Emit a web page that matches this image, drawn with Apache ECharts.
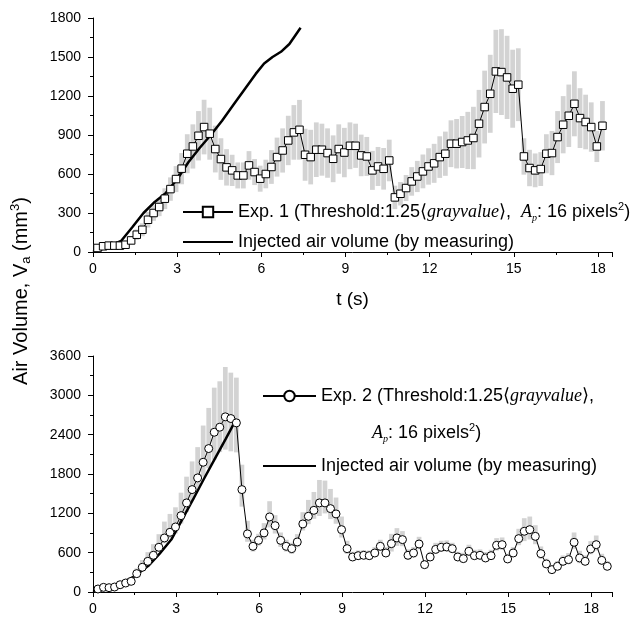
<!DOCTYPE html>
<html>
<head>
<meta charset="utf-8">
<script src="https://cdn.jsdelivr.net/npm/echarts@6/dist/echarts.min.js"></script>
<style>
  html, body { margin: 0; padding: 0; background: #fff; }
  #main { width: 632px; height: 623px; }
</style>
</head>
<body>
<div id="main"></div>
<script>
// ---- data ----
// Exp. 1 (top panel)
const t1 = [0.16,0.36,0.56,0.76,0.96,1.16,1.36,1.56,1.76,1.96,2.16,2.36,2.56,2.76,2.96,3.16,3.36,3.56,3.76,3.96,
  4.16,4.36,4.56,4.76,4.96,5.16,5.36,5.56,5.76,5.96,6.16,6.36,6.56,6.76,6.96,7.16,7.36,7.56,7.76,7.96,
  8.16,8.36,8.56,8.76,8.96,9.16,9.36,9.56,9.76,9.96,10.16,10.36,10.56,10.76,10.96,11.16,11.36,11.56,11.76,11.96,
  12.16,12.36,12.56,12.76,12.96,13.16,13.36,13.56,13.76,13.96,14.16,14.36,14.56,14.76,14.96,15.16,15.36,15.56,15.76,15.96,
  16.16,16.36,16.56,16.76,16.96,17.16,17.36,17.56,17.76,17.96,18.16];
const exp1 = [31,44,49,49,49,56,89,133,171,248,
  300,346,410,484,561,641,756,812,894,961,
  910,792,715,651,628,589,589,666,615,564,
  600,654,730,781,858,920,940,748,730,787,
  787,761,717,792,765,817,817,743,735,628,
  658,640,704,420,448,492,543,581,620,658,
  682,730,756,833,833,846,858,877,987,1115,
  1217,1389,1384,1343,1256,1287,735,646,628,638,
  756,761,884,979,1048,1140,1030,1000,961,812,
  971];
const exp1Err = [15,15,15,20,20, 25,30,40,50,60, 60,70,80,90,100, 120,150,170,190,210,
  200,180,160,140,120, 100,100,110,100,100, 110,130,150,170,190,210,230,
  200,210,210,200,190,180,190,190,180,170,160,150, 150,150,160,160,
  90,90,100,110,120,130,140, 150,160,170,180,190,200,220,240,
  260,280,300,320,330,320,300,280, 140,140,130,130,150,170,
  200,220,240,250,230,210,190,120,190];
const inj1T = [0,0.5,1.0,1.4,1.8,2.2,2.6,3.0,3.4,3.8,4.2,4.6,5.0,5.4,5.8,6.1,6.4,6.7,7.0,7.4];
const inj1V = [0,35,85,190,300,385,455,560,690,800,900,1010,1130,1250,1370,1450,1500,1540,1600,1725];

// Exp. 2 (bottom panel)
const t2 = [0.18,0.38,0.58,0.78,0.98,1.18,1.38,1.58,1.78,1.98,2.18,2.38,2.58,2.78,2.98,3.18,3.38,3.58,3.78,3.98,
  4.18,4.38,4.58,4.78,4.98,5.18,5.38,5.58,5.78,5.98,6.18,6.38,6.58,6.78,6.98,7.18,7.38,7.58,7.78,7.98,
  8.18,8.38,8.58,8.78,8.98,9.18,9.38,9.58,9.78,9.98,10.18,10.38,10.58,10.78,10.98,11.18,11.38,11.58,11.78,11.98,
  12.18,12.38,12.58,12.78,12.98,13.18,13.38,13.58,13.78,13.98,14.18,14.38,14.58,14.78,14.98,15.18,15.38,15.58,15.78,15.98,
  16.18,16.38,16.58,16.78,16.98,17.18,17.38,17.58,17.78,17.98,18.18,18.38,18.58];
const exp2 = [46,71,66,76,111,137,163,280,377,468,
  560,682,824,911,992,1165,1359,1562,1740,1979,
  2188,2437,2514,2672,2646,2580,1562,886,697,788,
  901,1145,1012,788,697,661,763,1038,1155,1246,
  1359,1359,1272,1191,951,661,534,554,560,554,
  595,697,595,737,824,799,560,595,732,417,
  534,650,682,687,661,534,509,621,554,560,
  519,554,712,722,504,595,814,926,951,849,
  585,428,341,392,468,494,758,519,468,656,
  722,483,392];
const exp2Up = [30,30,30,30,40,40,50, 80,110,140,170,200,250,280,300, 350,400,430,470,560,
  620,680,700,760,700,690, 380,200,100,100,150, 240,160,120,100,90,120,180,
  250,280,350,340,300,250,200, 120,80,80,80,80,90,100,90, 150,150,130,90,90,110,
  70,80,100,100,100,90,80,90, 100,90,90,90,90,110,110,80,90, 150,200,200,170,
  110,80,70,80,90,100, 150,110,90,120,140,100,80];
const exp2Down = [20,20,20,20,25,25,30, 30,40,50,60,70,80,90,100, 120,140,160,180,220,
  300,420,380,500,500,450, 260,120,80,80,100, 160,120,100,80,80,80,100,
  120,130,200,160,160,150,120, 80,60,60,60,60,60,70,60, 120,120,100,70,70,80,
  50,60,70,70,70,60,60,60, 70,60,60,60,60,80,80,60,60, 100,150,150,120,
  80,60,50,60,60,70, 100,80,60,80,90,70,60];
const inj2T = [0,0.5,1.0,1.5,2.0,2.4,2.83,3.2,3.6,4.0,4.4,4.8,5.18];
const inj2V = [0,50,130,240,400,580,800,1090,1400,1720,2030,2340,2640];

const yTicks1 = [0, 1800, 300];
const yTicks2 = [0, 3600, 600];

const SANS = 'Liberation Sans, Arial, sans-serif';
const SERIF = 'Liberation Serif, Times New Roman, serif';
const INJ = 'Injected air volume (by measuring)';

const rich = {
  n: { fontSize: 18, fontFamily: SANS, color: '#000', lineHeight: 22 },
  b: { fontSize: 18, fontFamily: SERIF, color: '#000', lineHeight: 22 },
  i: { fontSize: 18, fontFamily: SERIF, fontStyle: 'italic', color: '#000', lineHeight: 22 },
  sub: { fontSize: 10, fontFamily: SERIF, fontStyle: 'italic', color: '#000', verticalAlign: 'bottom', lineHeight: 10 },
  sup: { fontSize: 11, fontFamily: SANS, color: '#000', verticalAlign: 'top', lineHeight: 11 }
};

function pairs(xs, ys) {
  return xs.map((x, i) => [x, ys[i]]);
}

function legendText(name) {
  if (name === 'Exp. 1') {
    return '{n|Exp. 1 (Threshold:1.25}{b|⟨}{i|grayvalue}{b|⟩}{n|,  }{i|A}{sub|p}{n|: 16 pixels}{sup|2}{n|)}';
  }
  if (name === 'Exp. 2') {
    return '{n|Exp. 2 (Threshold:1.25}{b|⟨}{i|grayvalue}{b|⟩}{n|,}';
  }
  return '{n|' + name + '}';
}

// grey error bars, one rect per sample
function bandItem(params, api) {
  const x = api.value(0);
  const top = api.coord([x, api.value(2)]);
  const bot = api.coord([x, api.value(1)]);
  const w = api.size([0.2, 0])[0] * 0.85;
  return {
    type: 'rect',
    shape: { x: top[0] - w / 2, y: top[1], width: w, height: bot[1] - top[1] },
    style: { fill: '#d3d3d3' }
  };
}

function xAxisOf(gi, max, name) {
  return {
    type: 'value', gridIndex: gi, min: 0, max: max, interval: 3,
    name: name, nameLocation: 'middle', nameGap: 38,
    nameTextStyle: { fontSize: 19, fontFamily: SANS, color: '#000' },
    axisLine: { show: true, onZero: false, lineStyle: { color: '#000', width: 1 } },
    axisTick: { show: true, length: 5, lineStyle: { color: '#000' } },
    minorTick: { show: true, splitNumber: 2, length: 3, lineStyle: { color: '#000' } },
    splitLine: { show: false },
    axisLabel: {
      color: '#000', fontSize: 14, fontFamily: SANS, margin: 10,
      formatter: v => (v % 3 === 0 ? String(v) : '')
    }
  };
}

function yAxisOf(gi, ticks) {
  return {
    type: 'value', gridIndex: gi, min: ticks[0], max: ticks[1], interval: ticks[2],
    axisLine: { show: true, lineStyle: { color: '#000', width: 1 } },
    axisTick: { show: true, length: 5, lineStyle: { color: '#000' } },
    minorTick: { show: true, splitNumber: 2, length: 3, lineStyle: { color: '#000' } },
    splitLine: { show: false },
    axisLabel: { color: '#000', fontSize: 14, fontFamily: SANS, margin: 12, formatter: v => String(v) }
  };
}

const chart = echarts.init(document.getElementById('main'), null, { renderer: 'canvas' });

const option = {
  animation: false,
  backgroundColor: '#fff',
  grid: [
    { left: 93, right: 20, top: 18, height: 234 },
    { left: 93, right: 20, top: 356, height: 236 }
  ],
  xAxis: [xAxisOf(0, 18.5, 't (s)'), xAxisOf(1, 18.75, '')],
  yAxis: [yAxisOf(0, yTicks1), yAxisOf(1, yTicks2)],
  legend: [
    {
      orient: 'vertical', left: 177, top: 196, itemWidth: 50, itemHeight: 13, itemGap: 10,
      selectedMode: false, data: ['Exp. 1', INJ], formatter: legendText,
      textStyle: { rich: rich }
    },
    {
      orient: 'vertical', left: 257, top: 382, itemWidth: 53, itemHeight: 13, itemGap: 52,
      selectedMode: false, data: ['Exp. 2', INJ], formatter: legendText,
      textStyle: { rich: rich }
    }
  ],
  graphic: [
    {
      type: 'text', left: 372, top: 422,
      style: { text: '{i|A}{sub|p}{n|: 16 pixels}{sup|2}{n|)}', rich: rich }
    },
    {
      type: 'text', x: 21, y: 291, rotation: Math.PI / 2,
      style: {
        text: '{n|Air Volume, V}{s|a}{n| (mm}{p|3}{n|)}',
        align: 'center', verticalAlign: 'middle',
        rich: {
          n: { fontSize: 20, fontFamily: SANS, color: '#000', lineHeight: 24 },
          s: { fontSize: 13, fontFamily: SANS, color: '#000', verticalAlign: 'bottom', lineHeight: 13 },
          p: { fontSize: 13, fontFamily: SANS, color: '#000', verticalAlign: 'top', lineHeight: 13 }
        }
      }
    }
  ],
  series: [
    {
      type: 'custom', xAxisIndex: 0, yAxisIndex: 0, z: 1,
      renderItem: bandItem, encode: { x: 0, y: [1, 2] },
      data: t1.map((t, i) => [t, exp1[i] - exp1Err[i], exp1[i] + exp1Err[i]])
    },
    {
      name: INJ, type: 'line', xAxisIndex: 0, yAxisIndex: 0, z: 3,
      data: pairs(inj1T, inj1V), showSymbol: false, symbol: 'none',
      lineStyle: { color: '#000', width: 2.5 }, itemStyle: { color: 'transparent' }
    },
    {
      name: 'Exp. 1', type: 'line', xAxisIndex: 0, yAxisIndex: 0, z: 4,
      data: pairs(t1, exp1), symbol: 'rect', symbolSize: 7.5,
      lineStyle: { color: '#000', width: 1 },
      itemStyle: { color: '#fff', borderColor: '#000', borderWidth: 1 }
    },
    {
      type: 'custom', xAxisIndex: 1, yAxisIndex: 1, z: 1,
      renderItem: bandItem, encode: { x: 0, y: [1, 2] },
      data: t2.map((t, i) => [t, exp2[i] - exp2Down[i], exp2[i] + exp2Up[i]])
    },
    {
      name: INJ, type: 'line', xAxisIndex: 1, yAxisIndex: 1, z: 3,
      data: pairs(inj2T, inj2V), showSymbol: false, symbol: 'none',
      lineStyle: { color: '#000', width: 2.5 }, itemStyle: { color: 'transparent' }
    },
    {
      name: 'Exp. 2', type: 'line', xAxisIndex: 1, yAxisIndex: 1, z: 4,
      data: pairs(t2, exp2), symbol: 'circle', symbolSize: 8,
      lineStyle: { color: '#000', width: 1 },
      itemStyle: { color: '#fff', borderColor: '#000', borderWidth: 1 }
    }
  ]
};

chart.setOption(option);
</script>
</body>
</html>
